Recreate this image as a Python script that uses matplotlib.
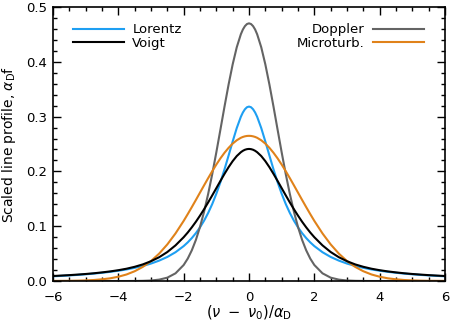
import matplotlib
matplotlib.use("Agg")
import matplotlib.pyplot as plt
from matplotlib.ticker import MultipleLocator

plt.rcParams['font.family'] = ['DejaVu Sans']

x = [-6.0, -5.75, -5.5, -5.25, -5.0, -4.75, -4.5, -4.25, -4.0, -3.75, -3.5, -3.25,
     -3.0, -2.75, -2.5, -2.25, -2.0, -1.875, -1.75, -1.625, -1.5, -1.375, -1.25, -1.125,
     -1.0, -0.875, -0.75, -0.625, -0.5, -0.375, -0.25, -0.1875, -0.125, -0.0625, 0.0,
     0.0625, 0.125, 0.1875, 0.25, 0.375,
     0.5, 0.625, 0.75, 0.875, 1.0, 1.125, 1.25, 1.375, 1.5, 1.625, 1.75, 1.875, 2.0,
     2.25, 2.5, 2.75, 3.0, 3.25, 3.5, 3.75, 4.0, 4.25, 4.5, 4.75, 5.0, 5.25, 5.5, 5.75, 6.0]

lorentz = [0.0086, 0.0093, 0.0102, 0.0111, 0.0122, 0.0135, 0.0150, 0.0167, 0.0187, 0.0211,
           0.0240, 0.0275, 0.0318, 0.0372, 0.0439, 0.0525,
           0.0637, 0.0705, 0.0784, 0.0874, 0.0979, 0.1101, 0.1242, 0.1405, 0.1592, 0.1803,
           0.2037, 0.2289, 0.2546, 0.2791, 0.2996, 0.3075, 0.3134, 0.3171, 0.3183,
           0.3171, 0.3134, 0.3075, 0.2996, 0.2791,
           0.2546, 0.2289, 0.2037, 0.1803, 0.1592, 0.1405, 0.1242, 0.1101, 0.0979, 0.0874,
           0.0784, 0.0705, 0.0637,
           0.0525, 0.0439, 0.0372, 0.0318, 0.0275, 0.0240, 0.0211, 0.0187, 0.0167, 0.0150,
           0.0135, 0.0122, 0.0111, 0.0102, 0.0093, 0.0086]

voigt = [0.0091, 0.0099, 0.0107, 0.0117, 0.0128, 0.0141, 0.0157, 0.0175, 0.0197, 0.0224,
         0.0259, 0.0303, 0.0361, 0.0434, 0.0529, 0.0650,
         0.0799, 0.0885, 0.0980, 0.1082, 0.1193, 0.1310, 0.1434, 0.1563, 0.1694, 0.1826,
         0.1955, 0.2077, 0.2187, 0.2280, 0.2350, 0.2376, 0.2395, 0.2406, 0.2410,
         0.2406, 0.2395, 0.2376, 0.2350, 0.2280,
         0.2187, 0.2077, 0.1955, 0.1826, 0.1694, 0.1563, 0.1434, 0.1310, 0.1193, 0.1082,
         0.0980, 0.0885, 0.0799,
         0.0650, 0.0529, 0.0434, 0.0361, 0.0303, 0.0259, 0.0224, 0.0197, 0.0175, 0.0157,
         0.0141, 0.0128, 0.0117, 0.0107, 0.0099, 0.0091]

doppler = [0, 0, 0, 0, 0, 0, 0, 0, 0, 0,
           0.0001, 0.0003, 0.0009, 0.0025, 0.0061, 0.0140,
           0.0292, 0.0409, 0.0561, 0.0751, 0.0986, 0.1265, 0.1589, 0.1952, 0.2348, 0.2763,
           0.3182, 0.3585, 0.3953, 0.4265, 0.4502, 0.4589, 0.4651, 0.4689, 0.4702,
           0.4689, 0.4651, 0.4589, 0.4502, 0.4265,
           0.3953, 0.3585, 0.3182, 0.2763, 0.2348, 0.1952, 0.1589, 0.1265, 0.0986, 0.0751,
           0.0561, 0.0409, 0.0292,
           0.0140, 0.0061, 0.0025, 0.0009, 0.0003, 0.0001,
           0, 0, 0, 0, 0, 0, 0, 0, 0, 0]

microturb = [0.0001, 0.0002, 0.0003, 0.0006, 0.0011, 0.0018, 0.0031, 0.0049, 0.0078, 0.0119,
             0.0178, 0.0258, 0.0364, 0.0500, 0.0668, 0.0868,
             0.1097, 0.1221, 0.1349, 0.1480, 0.1613, 0.1746, 0.1877, 0.2004, 0.2125, 0.2238,
             0.2340, 0.2430, 0.2507, 0.2568, 0.2613, 0.2629, 0.2640, 0.2647, 0.2649,
             0.2647, 0.2640, 0.2629, 0.2613, 0.2568,
             0.2507, 0.2430, 0.2340, 0.2238, 0.2125, 0.2004, 0.1877, 0.1746, 0.1613, 0.1480,
             0.1349, 0.1221, 0.1097,
             0.0868, 0.0668, 0.0500, 0.0364, 0.0258, 0.0178, 0.0119, 0.0078, 0.0049, 0.0031,
             0.0018, 0.0011, 0.0006, 0.0003, 0.0002, 0.0001]

xtick_vals = [-6, -4, -2, 0, 2, 4, 6]
xtick_labels = ['\u22126', '\u22124', '\u22122', '0', '2', '4', '6']
ytick_vals = [0.0, 0.1, 0.2, 0.3, 0.4, 0.5]
ytick_labels = ['0.0', '0.1', '0.2', '0.3', '0.4', '0.5']

fig = plt.figure(figsize=(4.55, 3.25), dpi=100)
ax = fig.add_axes([53/455, 1-281/325, 392/455, 274/325])

lw = 1.5
l_lor, = ax.plot(x, lorentz, color='#1E9FF2', lw=lw, label='Lorentz')
l_dop, = ax.plot(x, doppler, color='#646464', lw=lw, label='Doppler')
l_mic, = ax.plot(x, microturb, color='#E0821A', lw=lw, label='Microturb.')
l_voi, = ax.plot(x, voigt, color='black', lw=lw, label='Voigt')

fs = 9.5
ax.set_xlim(-6, 6)
ax.set_ylim(0, 0.5)
ax.xaxis.set_minor_locator(MultipleLocator(0.5))
ax.yaxis.set_minor_locator(MultipleLocator(0.02))
ax.set_xticks(xtick_vals)
ax.set_xticklabels(xtick_labels)
ax.set_yticks(ytick_vals)
ax.set_yticklabels(ytick_labels)
ax.tick_params(which='both', direction='in', top=True, right=True, width=1.0,
               labelsize=fs)
ax.tick_params(which='major', length=5.5)
ax.tick_params(which='minor', length=3)
ax.tick_params(axis='x', which='major', pad=7)
ax.tick_params(axis='y', which='major', pad=4)
for s in ax.spines.values():
    s.set_linewidth(1.2)

ax.set_xlabel(r'$(\nu\ -\ \nu_0)/\alpha_{\rm D}$', fontsize=10.5, labelpad=0)
ax.set_ylabel(r'Scaled line profile, $\alpha_{\rm D}$f', fontsize=10, labelpad=6)

leg_kw = dict(frameon=False, handlelength=3.9, handletextpad=0.6, labelspacing=0.03,
              fontsize=fs, borderaxespad=0, borderpad=0)
leg1 = ax.legend(handles=[l_lor, l_voi], loc='upper left', bbox_to_anchor=(0.051, 0.94),
                 **leg_kw)
ax.add_artist(leg1)
ax.legend(handles=[l_dop, l_mic], loc='upper right', bbox_to_anchor=(1 - 21/392, 0.94),
          markerfirst=False, **leg_kw)

fig.savefig('out.png', dpi=100)
